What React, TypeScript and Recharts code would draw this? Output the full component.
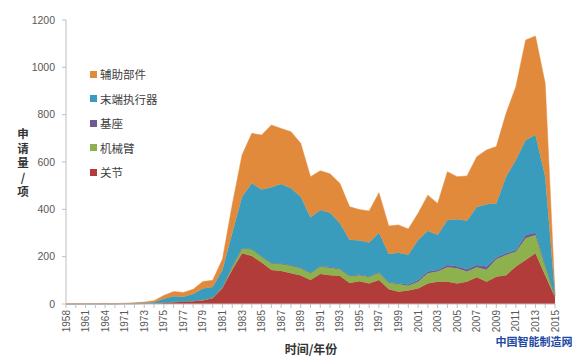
import React from 'react';
import { AreaChart, Area, XAxis, YAxis } from 'recharts';

// 年份（横轴类目）
const years = [
  '1958', '1960', '1961', '1963', '1964', '1969', '1971', '1972', '1973', '1974',
  '1975', '1976', '1977', '1978', '1979', '1980', '1981', '1982', '1983', '1984',
  '1985', '1986', '1987', '1988', '1989', '1990', '1991', '1992', '1993', '1994',
  '1995', '1996', '1997', '1998', '1999', '2000', '2001', '2002', '2003', '2004',
  '2005', '2006', '2007', '2008', '2009', '2010', '2011', '2012', '2013', '2014',
  '2015',
];

// 关节
const joint = [
  0, 0, 0, 0, 0, 0, 1, 1, 2, 2,
  4, 7, 9, 12, 15, 24, 68, 145, 214, 203,
  175, 144, 139, 130, 120, 101, 127, 122, 118, 89,
  96, 87, 101, 62, 52, 57, 66, 87, 94, 94,
  87, 94, 113, 94, 115, 122, 158, 186, 214, 120,
  28,
];
// 机械臂
const arm = [
  0, 0, 0, 0, 0, 0, 0, 0, 0, 1,
  2, 2, 2, 2, 3, 3, 5, 13, 21, 28,
  25, 28, 30, 32, 31, 29, 31, 31, 29, 29,
  26, 28, 31, 28, 32, 20, 28, 43, 43, 61,
  64, 43, 42, 51, 74, 85, 63, 92, 78, 40,
  4,
];
// 基座
const base = [
  0, 0, 0, 0, 0, 0, 0, 0, 0, 0,
  0, 0, 0, 0, 0, 0, 0, 1, 1, 1,
  1, 1, 1, 2, 2, 2, 2, 3, 2, 2,
  2, 2, 2, 2, 4, 5, 7, 7, 7, 10,
  9, 10, 10, 13, 8, 7, 7, 14, 9, 5,
  1,
];
// 末端执行器
const effector = [
  0, 0, 1, 1, 2, 1, 1, 2, 3, 4,
  16, 24, 20, 28, 47, 45, 72, 141, 217, 278,
  283, 320, 337, 325, 300, 234, 237, 230, 192, 152,
  144, 143, 167, 119, 129, 126, 169, 173, 148, 190,
  198, 205, 245, 264, 228, 324, 380, 401, 413, 373,
  2,
];
// 辅助部件
const aux = [
  1, 1, 1, 1, 1, 1, 1, 2, 3, 7,
  14, 20, 18, 20, 30, 28, 45, 120, 177, 211,
  230, 263, 235, 239, 226, 172, 166, 164, 169, 139,
  131, 133, 169, 119, 117, 109, 113, 150, 133, 204,
  180, 189, 212, 229, 240, 268, 310, 422, 418, 394,
  5,
];

const yTicks = [0, 200, 400, 600, 800, 1000, 1200];

const series = [
  { key: 'joint', name: '关节', color: '#b23c3a' },
  { key: 'arm', name: '机械臂', color: '#8db14d' },
  { key: 'base', name: '基座', color: '#6e5a96' },
  { key: 'effector', name: '末端执行器', color: '#3a9cbd' },
  { key: 'aux', name: '辅助部件', color: '#e28a3c' },
];

const data = years.map((year, i) => ({
  year,
  joint: joint[i],
  arm: arm[i],
  base: base[i],
  effector: effector[i],
  aux: aux[i],
}));

const cjk = '"Noto Sans CJK SC", "Liberation Sans", sans-serif';
const num = '"Liberation Sans", Arial, sans-serif';

function XTick(props: any) {
  const { x, y, payload, index } = props;
  if (index % 2 !== 0) return <g />;
  return (
    <text
      x={x}
      y={y}
      dy="0.35em"
      transform={`rotate(-90, ${x}, ${y})`}
      textAnchor="end"
      fontSize={10}
      fontFamily={num}
      fill="#595959"
    >
      {payload.value}
    </text>
  );
}

function YTitle() {
  const chars = ['申', '请', '量', '/', '项'];
  const ys = [134, 148.5, 163, 177.5, 192];
  return (
    <g>
      {chars.map((c, i) => (
        <text
          key={i}
          x={23}
          y={ys[i]}
          dy="0.35em"
          textAnchor="middle"
          fontSize={11.5}
          fontWeight="bold"
          fontFamily={cjk}
          fill="#333"
        >
          {c}
        </text>
      ))}
    </g>
  );
}

function XTitle() {
  return (
    <g>
      <text
        x={311}
        y={350}
        dy="0.35em"
        textAnchor="middle"
        fontSize={12}
        fontWeight="bold"
        fontFamily={cjk}
        fill="#333"
      >
        时间/年份
      </text>
      <text
        x={534}
        y={342}
        dy="0.35em"
        textAnchor="middle"
        fontSize={11}
        fontWeight="bold"
        fontFamily={cjk}
        fill="#1d4aa3"
      >
        中国智能制造网
      </text>
    </g>
  );
}

// 图例：放在图表外，避免挤占绘图区
function LegendBox() {
  const items = [...series].reverse();
  return (
    <div
      style={{
        position: 'absolute',
        left: 90,
        top: 62,
        fontFamily: cjk,
        fontSize: 11.5,
        color: '#404040',
      }}
    >
      {items.map((s) => (
        <div
          key={s.key}
          style={{ display: 'flex', alignItems: 'center', height: 24.5 }}
        >
          <span
            style={{
              width: 7,
              height: 7,
              background: s.color,
              display: 'inline-block',
              marginRight: 3,
            }}
          />
          <span>{s.name}</span>
        </div>
      ))}
    </div>
  );
}

export default function App() {
  return (
    <div
      style={{
        position: 'absolute',
        left: 0,
        top: 0,
        width: 579,
        height: 358,
        background: '#fff',
      }}
    >
      <AreaChart
        width={579}
        height={358}
        data={data}
        margin={{ top: 20, right: 24, bottom: 0, left: 0 }}
      >
        <XAxis
          dataKey="year"
          interval={0}
          height={54}
          tick={<XTick />}
          tickSize={4}
          tickLine={{ stroke: '#bfbfbf' }}
          axisLine={{ stroke: '#bfbfbf' }}
          label={{ content: () => <XTitle /> }}
        />
        <YAxis
          width={66}
          domain={[0, 1200]}
          ticks={yTicks}
          tickSize={4}
          tickMargin={7}
          tickLine={{ stroke: '#bfbfbf' }}
          axisLine={{ stroke: '#bfbfbf' }}
          tick={{ fontSize: 10.5, fill: '#595959', fontFamily: num }}
          label={{ content: () => <YTitle /> }}
        />
        {series.map((s) => (
          <Area
            key={s.key}
            type="linear"
            dataKey={s.key}
            name={s.name}
            stackId="1"
            stroke={s.color}
            strokeWidth={0.5}
            fill={s.color}
            fillOpacity={1}
            isAnimationActive={false}
          />
        ))}
      </AreaChart>
      <LegendBox />
    </div>
  );
}
